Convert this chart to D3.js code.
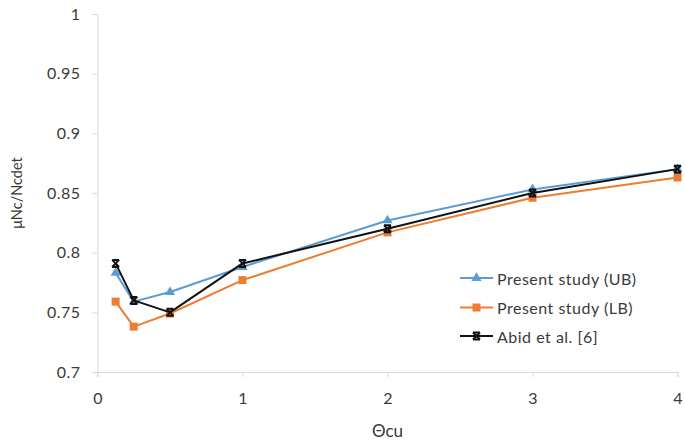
<!DOCTYPE html>
<html>
<head>
<meta charset="utf-8">
<script src="https://cdn.jsdelivr.net/npm/d3@7"></script>
<style>
  html, body { margin: 0; padding: 0; background: #fff; }
  svg { display: block; }
  text { font-family: Lato, "Open Sans", sans-serif; fill: #3a3a3a; }
</style>
</head>
<body>
<svg id="chart" width="685" height="443"></svg>
<script>
// Ratio μNc/Ncdet against Θcu
const thetaCu = [0.125, 0.25, 0.5, 1, 2, 3, 4];
const upperBound = [0.783, 0.759, 0.767, 0.788, 0.827, 0.853, 0.870];
const lowerBound = [0.759, 0.738, 0.749, 0.777, 0.817, 0.846, 0.863];
const abidEtAl = [0.791, 0.760, 0.750, 0.791, 0.820, 0.850, 0.870];

const xTicks = [0, 1, 2, 3, 4];
const yTicks = [0.7, 0.75, 0.8, 0.85, 0.9, 0.95, 1];

const seriesNames = ["Present study (UB)", "Present study (LB)", "Abid et al. [6]"];
const seriesValues = [upperBound, lowerBound, abidEtAl];
const seriesColors = ["#5B9BD5", "#ED7D31", "#111111"];
const seriesMarkers = ["triangle", "square", "cross"];

const svg = d3.select("#chart");

const x = d3.scaleLinear().domain([0, 4]).range([97.5, 677.5]);
const y = d3.scaleLinear().domain([0.7, 1]).range([372, 14]);

const axisColor = "#d9d9d9";
const labelFont = "Lato, 'Open Sans', sans-serif";

// y axis
const yAxis = svg.append("g")
  .attr("transform", `translate(${x(0)},0)`)
  .call(d3.axisLeft(y).tickValues(yTicks).tickSize(5).tickPadding(12)
    .tickFormat(d => d3.format("")(+d.toFixed(2))));
yAxis.select(".domain").attr("stroke", axisColor);
yAxis.selectAll(".tick line").attr("stroke", axisColor);
yAxis.selectAll(".tick text")
  .style("font-family", labelFont)
  .style("font-size", "16px")
  .style("letter-spacing", "0.5px")
  .attr("fill", "#3a3a3a");

// x axis
const xAxis = svg.append("g")
  .attr("transform", `translate(0,${y(0.7)})`)
  .call(d3.axisBottom(x).tickValues(xTicks).tickSize(5).tickPadding(16)
    .tickFormat(d3.format("d")));
xAxis.select(".domain").attr("stroke", axisColor);
xAxis.selectAll(".tick line").attr("stroke", axisColor);
xAxis.selectAll(".tick text")
  .style("font-family", labelFont)
  .style("font-size", "16px")
  .attr("fill", "#3a3a3a");

// axis titles
svg.append("text")
  .attr("x", x(2)).attr("y", 437)
  .attr("text-anchor", "middle")
  .style("font-size", "17px")
  .text("Θcu");

svg.append("text")
  .attr("transform", `translate(22,${y(0.85)}) rotate(-90)`)
  .attr("text-anchor", "middle")
  .style("font-size", "14.5px")
  .text("μNc/Ncdet");

// marker drawing
function drawMarker(g, type, color, cx, cy) {
  if (type === "triangle") {
    g.append("path")
      .attr("d", d3.symbol().type(d3.symbolTriangle).size(44)())
      .attr("transform", `translate(${cx},${cy})`)
      .attr("fill", color);
  } else if (type === "square") {
    g.append("rect")
      .attr("x", cx - 4).attr("y", cy - 4)
      .attr("width", 8).attr("height", 8)
      .attr("fill", color);
  } else {
    const s = 3.5;
    g.append("path")
      .attr("d", `M${cx - s},${cy - s}L${cx + s},${cy + s}M${cx + s},${cy - s}L${cx - s},${cy + s}` +
                 `M${cx - s},${cy - s}L${cx + s},${cy - s}M${cx - s},${cy + s}L${cx + s},${cy + s}`)
      .attr("stroke", color).attr("stroke-width", 2).attr("fill", "none");
  }
}

const line = d3.line()
  .x((d, i) => x(thetaCu[i]))
  .y(d => y(d));

seriesValues.forEach((vals, k) => {
  const g = svg.append("g");
  g.append("path")
    .datum(vals)
    .attr("d", line)
    .attr("fill", "none")
    .attr("stroke", seriesColors[k])
    .attr("stroke-width", 2)
    .attr("stroke-linejoin", "round");
  vals.forEach((v, i) => drawMarker(g, seriesMarkers[k], seriesColors[k], x(thetaCu[i]), y(v)));
});

// legend
const legendRows = [278, 307.5, 336];
seriesNames.forEach((name, k) => {
  const g = svg.append("g");
  const ly = legendRows[k];
  g.append("line")
    .attr("x1", 460).attr("x2", 493)
    .attr("y1", ly).attr("y2", ly)
    .attr("stroke", seriesColors[k]).attr("stroke-width", 2);
  drawMarker(g, seriesMarkers[k], seriesColors[k], 476.5, ly);
  g.append("text")
    .attr("x", 497).attr("y", ly + 6.5)
    .style("font-size", "16px")
    .style("letter-spacing", "0.5px")
    .text(name);
});
</script>
</body>
</html>
